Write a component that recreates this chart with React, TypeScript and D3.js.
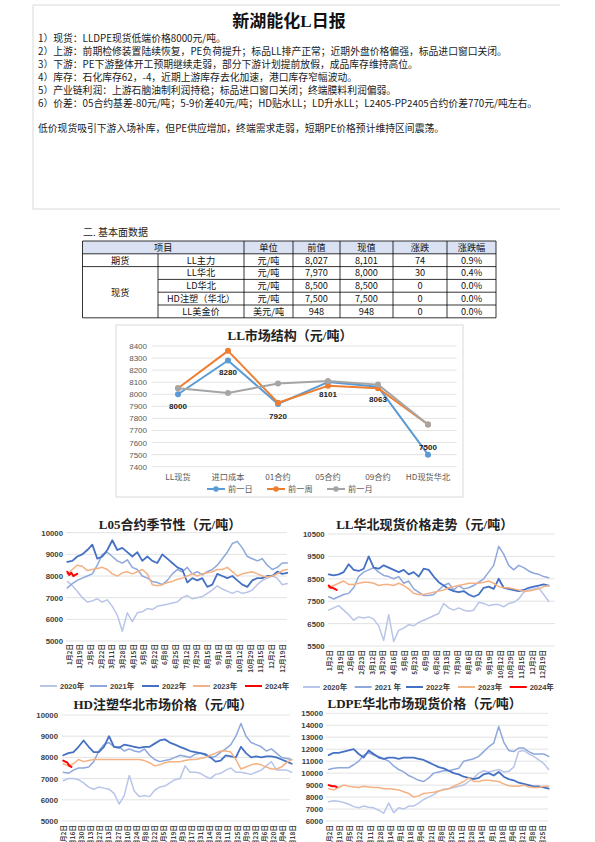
import React from "react";
import * as d3 from "d3";

const W = 595;
const H = 842;
const CJK = "'Noto Sans CJK SC', 'Noto Sans', sans-serif";
const SERIF = "'Liberation Serif', 'Noto Sans CJK SC', serif";
const SANS = "'Liberation Sans', 'Noto Sans CJK SC', sans-serif";

// ---------- report text ----------
const reportTitle = "新湖能化L日报";
const reportLines = [
  "1）现货：LLDPE现货低端价格8000元/吨。",
  "2）上游：前期检修装置陆续恢复，PE负荷提升；标品LL排产正常；近期外盘价格偏强，标品进口窗口关闭。",
  "3）下游：PE下游整体开工预期继续走弱，部分下游计划提前放假，成品库存维持高位。",
  "4）库存：石化库存62，-4，近期上游库存去化加速，港口库存窄幅波动。",
  "5）产业链利润：上游石脑油制利润持稳；标品进口窗口关闭；终端膜料利润偏弱。",
  "6）价差：05合约基差-80元/吨；5-9价差40元/吨；HD贴水LL；LD升水LL；L2405-PP2405合约价差770元/吨左右。",
];
const reportSummary = "低价现货吸引下游入场补库，但PE供应增加，终端需求走弱，短期PE价格预计维持区间震荡。";
const sectionTitle = "二. 基本面数据";

// ---------- table ----------
const tableHeader = ["项目", "单位", "前值", "现值", "涨跌", "涨跌幅"];
const tableGroups = ["期货", "现货"];
const tableItems = ["LL主力", "LL华北", "LD华北", "HD注塑（华北）", "LL美金价"];
const tableUnits = ["元/吨", "元/吨", "元/吨", "元/吨", "美元/吨"];
const tablePrev = [8027, 7970, 8500, 7500, 948];
const tableCurr = [8101, 8000, 8500, 7500, 948];
const tableChange = [74, 30, 0, 0, 0];
const tablePct = ["0.9%", "0.4%", "0.0%", "0.0%", "0.0%"];

// ---------- market structure ----------
const structTitle = "LL市场结构（元/吨）";
const structCategories = ["LL现货", "进口成本", "01合约", "05合约", "09合约", "HD现货华北"];
const structDay = [8000, 8280, 7920, 8101, 8063, 7500];
const structWeek = [8050, 8360, 7930, 8070, 8050, 7750];
const structMonth = [8050, 8010, 8090, 8110, 8080, 7750];
const structTicks = [7400, 7500, 7600, 7700, 7800, 7900, 8000, 8100, 8200, 8300, 8400];
const structNames = ["前一日", "前一周", "前一月"];

// ---------- seasonal charts ----------
const seasonNames = ["2020年", "2021年", "2022年", "2023年", "2024年"];
const seasonNamesAlt = ["2020年", "2021 年", "2022年", "2023年", "2024年"];

const l05Title = "L05合约季节性（元/吨）";
const l05Ticks = [5000, 6000, 7000, 8000, 9000, 10000];
const l05Labels = ["1月2日", "1月19日", "2月5日", "2月22日", "3月11日", "3月28日", "4月15日", "5月5日", "5月22日", "6月8日", "6月25日", "7月12日", "7月29日", "8月15日", "9月1日", "9月18日", "10月12日", "10月29日", "11月15日", "12月2日", "12月19日"];
const l05_2020 = [7750, 7550, 7300, 7000, 6800, 6850, 6950, 6800, 6900, 6600, 6200, 5450, 6300, 5900, 6300, 6350, 6500, 6450, 6600, 6650, 6700, 6750, 6800, 7000, 7100, 6950, 7000, 7050, 7200, 7350, 7550, 7400, 7300, 7200, 7300, 7200, 7250, 7350, 7600, 7800, 7900, 8000, 7900, 7600, 7650];
const l05_2021 = [7450, 7650, 7800, 7900, 8000, 8100, 8500, 9000, 9100, 8900, 8700, 8600, 8750, 8400, 8300, 8000, 7900, 7750, 7700, 7600, 7800, 8100, 8300, 8200, 8400, 8100, 8200, 8050, 8200, 8300, 8500, 8800, 9100, 9500, 9600, 9300, 8900, 8800, 8700, 8800, 8500, 8300, 8400, 8600, 8600];
const l05_2022 = [8650, 8700, 8900, 9000, 9200, 9450, 8800, 8900, 9200, 9650, 9200, 9300, 9100, 8900, 9100, 8700, 8900, 8700, 8600, 9000, 8800, 8600, 8400, 8300, 7700, 7900, 7800, 7900, 7500, 7600, 8100, 8000, 7900, 8000, 7800, 7600, 7500, 7800, 7900, 7900, 8000, 8000, 8200, 8100, 8150];
const l05_2023 = [8100, 8300, 8500, 8450, 8250, 8300, 8350, 8400, 8300, 8100, 8000, 8150, 8200, 8100, 8200, 8300, 8100, 7600, 7550, 7600, 7700, 7750, 7850, 7900, 8000, 8100, 8000, 8100, 8150, 8200, 8300, 8300, 8400, 8200, 8000, 8100, 8150, 8200, 8100, 8000, 7950, 8000, 8100, 8250, 8300];
const l05_2024 = [8200, 8050, 8150, 8000, 8050, 8100];

const llhbTitle = "LL华北现货价格走势（元/吨）";
const llhbTicks = [5500, 6500, 7500, 8500, 9500, 10500];
const llhbLabels = ["1月2日", "1月19日", "2月6日", "2月23日", "3月12日", "3月29日", "4月16日", "5月6日", "5月23日", "6月9日", "6月26日", "7月13日", "7月30日", "8月16日", "9月2日", "9月19日", "10月12日", "10月29日", "11月15日", "12月2日", "12月19日"];
const llhb_2020 = [7100, 7200, 7300, 7100, 6900, 6650, 6800, 6750, 6800, 6700, 6400, 5750, 6900, 5700, 6200, 6300, 6450, 6400, 6550, 6650, 6750, 6850, 6950, 7400, 7200, 7100, 7200, 7100, 7050, 7100, 7450, 7400, 7300, 7350, 7350, 7250, 7400, 7450, 7600, 7900, 8000, 8050, 8100, 7800, 7500];
const llhb_2021 = [7700, 7600, 7700, 7800, 7850, 8100, 8600, 8800, 8900, 9000, 8800, 8650, 8600, 8500, 8600, 8300, 8400, 8050, 7900, 7750, 7750, 7800, 8000, 8200, 8300, 8000, 8200, 8050, 8100, 8200, 8350, 8500, 8800, 9100, 9950, 9600, 9100, 8900, 9100, 9000, 8850, 8750, 8700, 8600, 8550];
const llhb_2022 = [8700, 8650, 8700, 8800, 9150, 8900, 8850, 8950, 9500, 9000, 8950, 9100, 9000, 8900, 8800, 8900, 8700, 8800, 8600, 8950, 8900, 8600, 8350, 8200, 8050, 7950, 7900, 7950, 7800, 7700, 7800, 8100, 8150, 8050, 8500, 8100, 8050, 8000, 7950, 8000, 8100, 8150, 8200, 8250, 8200];
const llhb_2023 = [8100, 8200, 8300, 8400, 8250, 8250, 8300, 8350, 8350, 8300, 8200, 8250, 8250, 8200, 8300, 8200, 8050, 7850, 7800, 7800, 7850, 7900, 7950, 8000, 8100, 8150, 8200, 8250, 8300, 8300, 8300, 8350, 8400, 8300, 8150, 8100, 8100, 8050, 8000, 7950, 7950, 8000, 8050, 8150, 8200];
const llhb_2024 = [8200, 8100, 8100, 8050, 8000];

const hdTitle = "HD注塑华北市场价格（元/吨）";
const hdTicks = [5000, 6000, 7000, 8000, 9000, 10000];
const hdLabels = ["1月2日", "1月16日", "1月30日", "2月13日", "2月27日", "3月13日", "3月27日", "4月10日", "4月24日", "5月8日", "5月22日", "6月5日", "6月19日", "7月3日", "7月17日", "7月31日", "8月14日", "8月28日", "9月11日", "9月25日", "10月9日", "10月23日", "11月6日", "11月20日", "12月4日", "12月18日"];
const hd_2020 = [6900, 7000, 7000, 6950, 6800, 6600, 6500, 6600, 6550, 6500, 6300, 5800, 6200, 7150, 6400, 6150, 6200, 6150, 6450, 6600, 6650, 6800, 6950, 7000, 7600, 7300, 7300, 7250, 7100, 7000, 7200, 7250, 7400, 7500, 7300, 7300, 7250, 7200, 7300, 7400, 7600, 7800, 7400, 7400, 7400, 7300];
const hd_2021 = [7300, 7250, 7400, 7500, 7500, 7550, 7800, 8300, 8600, 8700, 8500, 8500, 8300, 8400, 8300, 8250, 8400, 8100, 7900, 7800, 7850, 7900, 8000, 8100, 8050, 8000, 8150, 8200, 8100, 8000, 8050, 8250, 8400, 8600, 9000, 9600, 9000, 8700, 8600, 8500, 8300, 8400, 8200, 8000, 7950, 7900];
const hd_2022 = [8100, 8200, 8250, 8500, 8800, 8500, 8250, 8250, 8500, 9000, 8500, 8450, 8600, 8550, 8500, 8450, 8500, 8500, 8650, 8800, 8850, 8700, 8600, 8500, 8400, 8300, 8250, 8200, 8150, 8000, 7800, 7850, 8100, 8050, 8000, 8500, 8200, 8000, 8050, 8000, 8050, 8050, 8000, 7900, 7800, 7700];
const hd_2023 = [7700, 7600, 7700, 7900, 7800, 7850, 7900, 7900, 7900, 7900, 7900, 7900, 7900, 7900, 7900, 7900, 7850, 7750, 7600, 7650, 7750, 7800, 7800, 7800, 7850, 7900, 7900, 7950, 8000, 8100, 8200, 8300, 8300, 8250, 7900, 7450, 7550, 7650, 7700, 7650, 7550, 7450, 7450, 7550, 7750, 7900];
const hd_2024 = [7850, 7800, 7750, 7600, 7550];

const ldpeTitle = "LDPE华北市场现货价格（元/吨）";
const ldpeTicks = [6000, 7000, 8000, 9000, 10000, 11000, 12000, 13000, 14000, 15000];
const ldpeLabels = ["1月2日", "1月19日", "2月5日", "2月22日", "3月11日", "3月28日", "4月14日", "5月1日", "5月18日", "6月4日", "6月21日", "7月8日", "7月25日", "8月11日", "8月28日", "9月14日", "10月1日", "10月18日", "11月4日", "11月21日", "12月8日", "12月25日"];
const ldpe_2020 = [7600, 7700, 7650, 7550, 7400, 7200, 7100, 7250, 7150, 7100, 6900, 6650, 7500, 6700, 7100, 7000, 7250, 7250, 7500, 7800, 8000, 8200, 8500, 8650, 8700, 8800, 8900, 9000, 9300, 9600, 10000, 10200, 10100, 10200, 10300, 10100, 10150, 10500, 11800, 11900, 11600, 11400, 11100, 10800, 10300];
const ldpe_2021 = [10300, 10400, 10450, 10450, 10450, 10700, 11000, 11500, 11700, 11500, 11400, 11200, 11000, 10600, 10300, 10100, 9800, 9600, 9400, 9300, 9600, 10000, 10100, 10200, 10200, 10300, 10400, 11000, 11100, 11200, 11400, 11800, 12200, 12500, 13900, 12600, 11900, 11800, 12100, 12100, 11800, 11600, 11600, 11600, 11400];
const ldpe_2022 = [11500, 11700, 11700, 11800, 11900, 12000, 11600, 11300, 11900, 11600, 11300, 11200, 11300, 11300, 11200, 11300, 11300, 11300, 11200, 11100, 10900, 10700, 10500, 10400, 10200, 10000, 9900, 9700, 9600, 9500, 9600, 9900, 10000, 9800, 10100, 9700, 9500, 9400, 9200, 9100, 9000, 8900, 8900, 8800, 8700];
const ldpe_2023 = [8700, 8600, 8800, 9000, 8900, 8850, 8800, 8900, 8850, 8800, 8800, 8700, 8700, 8650, 8600, 8450, 8300, 8000, 8100, 8300, 8350, 8400, 8500, 8600, 8700, 8900, 9100, 9300, 9600, 9300, 9300, 9400, 9400, 9350, 9300, 9100, 8950, 8900, 8900, 9000, 8850, 8800, 8800, 8900, 8900];
const ldpe_2024 = [9000, 8950, 8900, 8900, 8850];

// ---------- styles ----------
const seasonColors = ["#b9c5e8", "#8ea8dc", "#4471c4", "#f4b183", "#ff0000"];
const seasonWidths = [1.5, 1.5, 1.8, 1.5, 2];
const structColors = ["#5b9bd5", "#ed7d31", "#a5a5a5"];
const PARTIAL_STEP = 0.4;

function Header() {
  return (
    <g>
      <path d="M560,5 H33 V209 H560" fill="none" stroke="#d9d9d9" strokeWidth={1} />
      <text x={289} y={27} textAnchor="middle" fontFamily={SERIF} fontWeight="bold" fontSize={17} fill="#111">
        {reportTitle}
      </text>
      {reportLines.map((t, i) => (
        <text key={i} x={38} y={41.5 + i * 13.1} fontFamily={CJK} fontSize={9.8} fill="#1a1a1a">
          {t}
        </text>
      ))}
      <text x={38} y={131.5} fontFamily={CJK} fontSize={9.8} fill="#1a1a1a">
        {reportSummary}
      </text>
    </g>
  );
}

function DataTable() {
  const cols = [82.5, 158, 244, 293, 340, 393, 447, 496];
  const top = 241;
  const rh = 12.8;
  const fmt = d3.format(",");
  const rowsY = d3.range(7).map((i) => top + i * rh);
  const mid = (a: number, b: number) => (a + b) / 2;
  const fs = 9.2;
  const txt = (x: number, y: number, s: string, key: string) => (
    <text key={key} x={x} y={y + 3.3} textAnchor="middle" fontFamily={CJK} fontSize={fs} fill="#111">
      {s}
    </text>
  );
  const items: React.ReactNode[] = [];
  items.push(txt(mid(cols[0], cols[2]), mid(rowsY[0], rowsY[1]), tableHeader[0], "h0"));
  for (let c = 1; c < tableHeader.length; c++) {
    items.push(txt(mid(cols[c + 1], cols[c + 2]), mid(rowsY[0], rowsY[1]), tableHeader[c], "h" + c));
  }
  items.push(txt(mid(cols[0], cols[1]), mid(rowsY[1], rowsY[2]), tableGroups[0], "g0"));
  items.push(txt(mid(cols[0], cols[1]), mid(rowsY[2], rowsY[6]), tableGroups[1], "g1"));
  tableItems.forEach((name, r) => {
    const yc = mid(rowsY[r + 1], rowsY[r + 2]);
    items.push(txt(mid(cols[1], cols[2]), yc, name, "n" + r));
    items.push(txt(mid(cols[2], cols[3]), yc, tableUnits[r], "u" + r));
    items.push(txt(mid(cols[3], cols[4]), yc, fmt(tablePrev[r]), "p" + r));
    items.push(txt(mid(cols[4], cols[5]), yc, fmt(tableCurr[r]), "c" + r));
    items.push(txt(mid(cols[5], cols[6]), yc, String(tableChange[r]), "d" + r));
    items.push(txt(mid(cols[6], cols[7]), yc, tablePct[r], "q" + r));
  });
  const lines: React.ReactNode[] = [];
  [0, 1, 2, 6].forEach((i) =>
    lines.push(<line key={"hl" + i} x1={cols[0]} x2={cols[7]} y1={rowsY[i]} y2={rowsY[i]} />)
  );
  [3, 4, 5].forEach((i) =>
    lines.push(<line key={"hm" + i} x1={cols[1]} x2={cols[7]} y1={rowsY[i]} y2={rowsY[i]} />)
  );
  cols.forEach((x, i) => {
    const y1 = i === 1 ? rowsY[1] : rowsY[0];
    lines.push(<line key={"v" + i} x1={x} x2={x} y1={y1} y2={rowsY[6]} />);
  });
  return (
    <g>
      <text x={83} y={235.5} fontFamily={CJK} fontSize={10} fill="#222">
        {sectionTitle}
      </text>
      <rect x={cols[0]} y={rowsY[0]} width={cols[7] - cols[0]} height={rh} fill="#d9e1f2" />
      <g stroke="#000" strokeWidth={0.8}>{lines}</g>
      {items}
    </g>
  );
}

function StructureChart() {
  const box = { x: 116, y: 325, w: 347, h: 172 };
  const y = d3.scaleLinear().domain([7400, 8400]).range([466.7, 346]);
  const x = d3.scaleBand<string>().domain(structCategories).range([153, 453]);
  const cx = (c: string) => (x(c) as number) + x.bandwidth() / 2;
  const line = d3
    .line<number>()
    .x((_, i) => cx(structCategories[i]))
    .y((v) => y(v));
  const series = [structDay, structWeek, structMonth];
  const legendX = [207, 267, 327];
  return (
    <g>
      <rect x={box.x} y={box.y} width={box.w} height={box.h} fill="#fff" stroke="#d9d9d9" />
      <text x={290} y={339.5} textAnchor="middle" fontFamily={SERIF} fontWeight="bold" fontSize={13} fill="#222">
        {structTitle}
      </text>
      {structTicks.map((t) => (
        <g key={t}>
          <line x1={151.7} x2={456.7} y1={y(t)} y2={y(t)} stroke="#d9d9d9" strokeWidth={0.75} />
          <text x={147} y={y(t) + 3} textAnchor="end" fontFamily={SANS} fontSize={8} fill="#595959">
            {t}
          </text>
        </g>
      ))}
      {structCategories.map((c) => (
        <text key={c} x={cx(c)} y={479.5} textAnchor="middle" fontFamily={CJK} fontSize={8.2} fill="#595959">
          {c}
        </text>
      ))}
      {series.map((s, k) => (
        <g key={k}>
          <path d={line(s) || ""} fill="none" stroke={structColors[k]} strokeWidth={2} strokeLinejoin="round" />
          {s.map((v, i) => (
            <circle key={i} cx={cx(structCategories[i])} cy={y(v)} r={3} fill={structColors[k]} />
          ))}
        </g>
      ))}
      {structDay.map((v, i) => {
        const last = i === structDay.length - 1;
        return (
          <text
            key={"l" + i}
            x={cx(structCategories[i])}
            y={y(v) + (last ? -5 : 15)}
            textAnchor="middle"
            fontFamily={SANS}
            fontSize={8}
            fontWeight="bold"
            fill="#222"
          >
            {v}
          </text>
        );
      })}
      {structNames.map((n, k) => (
        <g key={n}>
          <line x1={legendX[k]} x2={legendX[k] + 18} y1={489} y2={489} stroke={structColors[k]} strokeWidth={2} />
          <circle cx={legendX[k] + 9} cy={489} r={2.8} fill={structColors[k]} />
          <text x={legendX[k] + 21} y={492} fontFamily={CJK} fontSize={8.2} fill="#595959">
            {n}
          </text>
        </g>
      ))}
    </g>
  );
}

type SeasonalProps = {
  id: string;
  box: [number, number, number, number];
  title: string;
  titleX: number;
  titleY: number;
  yDomain: [number, number];
  yRange: [number, number];
  yTicks: number[];
  yLabelX: number;
  gridX: [number, number];
  lineX: [number, number];
  labels: string[];
  labelX: [number, number];
  labelTop: number;
  data: number[][];
  legendNames?: string[];
  legendX?: number[];
  legendY?: number;
};

function SeasonalChart(p: SeasonalProps) {
  const y = d3.scaleLinear().domain(p.yDomain).range(p.yRange);
  const nFull = p.data[0].length;
  const x = d3.scaleLinear().domain([0, nFull - 1]).range(p.lineX);
  const lx = d3.scalePoint<string>().domain(p.labels).range(p.labelX);
  const [bx, by, bw, bh] = p.box;
  return (
    <g>
      <defs>
        <clipPath id={"clip-" + p.id}>
          <rect x={bx} y={by} width={bw} height={bh} />
        </clipPath>
      </defs>
      <g clipPath={`url(#clip-${p.id})`}>
        <rect x={bx} y={by} width={bw} height={bh} fill="#fff" />
        <text x={p.titleX} y={p.titleY} textAnchor="middle" fontFamily={SERIF} fontWeight="bold" fontSize={13} fill="#222">
          {p.title}
        </text>
        {p.yTicks.map((t) => (
          <g key={t}>
            <line x1={p.gridX[0]} x2={p.gridX[1]} y1={y(t)} y2={y(t)} stroke="#d9d9d9" strokeWidth={0.75} />
            <text x={p.yLabelX} y={y(t) + 3} textAnchor="end" fontFamily={SANS} fontWeight="bold" fontSize={7.8} fill="#404040">
              {t}
            </text>
          </g>
        ))}
        {p.labels.map((l) => (
          <text
            key={l}
            transform={`translate(${lx(l)},${p.labelTop}) rotate(-90)`}
            textAnchor="end"
            dy="0.35em"
            fontFamily={CJK}
            fontWeight="bold"
            fontSize={6.6}
            fill="#404040"
          >
            {l}
          </text>
        ))}
        {p.data.map((vals, k) => {
          const partial = k === p.data.length - 1;
          const line = d3
            .line<number>()
            .x((_, i) => x(partial ? i * PARTIAL_STEP : i))
            .y((v) => y(v));
          return (
            <path
              key={k}
              d={line(vals) || ""}
              fill="none"
              stroke={seasonColors[k]}
              strokeWidth={seasonWidths[k]}
              strokeLinejoin="round"
              strokeLinecap="round"
            />
          );
        })}
        {p.legendNames &&
          p.legendX &&
          p.legendNames.map((n, k) => (
            <g key={n}>
              <line
                x1={p.legendX![k]}
                x2={p.legendX![k] + 17}
                y1={p.legendY}
                y2={p.legendY}
                stroke={seasonColors[k]}
                strokeWidth={2}
              />
              <text x={p.legendX![k] + 20} y={(p.legendY as number) + 2.8} fontFamily={SANS} fontWeight="bold" fontSize={7.5} fill="#404040">
                {n}
              </text>
            </g>
          ))}
      </g>
    </g>
  );
}

export default function App() {
  return (
    <svg width={W} height={H} style={{ position: "absolute", left: 0, top: 0, background: "#fff" }}>
      <rect width={W} height={H} fill="#fff" />
      <Header />
      <DataTable />
      <StructureChart />
      <SeasonalChart
        id="l05"
        box={[30, 512, 268, 179]}
        title={l05Title}
        titleX={170}
        titleY={529}
        yDomain={[5000, 10000]}
        yRange={[641, 532.7]}
        yTicks={l05Ticks}
        yLabelX={63}
        gridX={[66, 287]}
        lineX={[67.3, 287.3]}
        labels={l05Labels}
        labelX={[69.3, 282.3]}
        labelTop={644}
        data={[l05_2020, l05_2021, l05_2022, l05_2023, l05_2024]}
        legendNames={seasonNames}
        legendX={[40, 90, 142, 193, 245]}
        legendY={686}
      />
      <SeasonalChart
        id="llhb"
        box={[298, 512, 266, 179]}
        title={llhbTitle}
        titleX={424.7}
        titleY={529}
        yDomain={[5500, 10500]}
        yRange={[646, 534]}
        yTicks={llhbTicks}
        yLabelX={324.7}
        gridX={[328, 555]}
        lineX={[328.7, 548.7]}
        labels={llhbLabels}
        labelX={[329.7, 543]}
        labelTop={650}
        data={[llhb_2020, llhb_2021, llhb_2022, llhb_2023, llhb_2024]}
        legendNames={seasonNamesAlt}
        legendX={[303, 354.7, 406, 458, 509.7]}
        legendY={687}
      />
      <SeasonalChart
        id="hd"
        box={[30, 691, 268, 151]}
        title={hdTitle}
        titleX={163}
        titleY={709}
        yDomain={[5000, 10000]}
        yRange={[821, 715]}
        yTicks={hdTicks}
        yLabelX={58}
        gridX={[61.7, 290]}
        lineX={[63.3, 291.7]}
        labels={hdLabels}
        labelX={[63.3, 292.3]}
        labelTop={825}
        data={[hd_2020, hd_2021, hd_2022, hd_2023, hd_2024]}
      />
      <SeasonalChart
        id="ldpe"
        box={[298, 691, 266, 151]}
        title={ldpeTitle}
        titleX={424.7}
        titleY={708}
        yDomain={[6000, 15000]}
        yRange={[821, 713.3]}
        yTicks={ldpeTicks}
        yLabelX={323}
        gridX={[326, 548]}
        lineX={[328.7, 548.7]}
        labels={ldpeLabels}
        labelX={[329.7, 543]}
        labelTop={825}
        data={[ldpe_2020, ldpe_2021, ldpe_2022, ldpe_2023, ldpe_2024]}
      />
    </svg>
  );
}
